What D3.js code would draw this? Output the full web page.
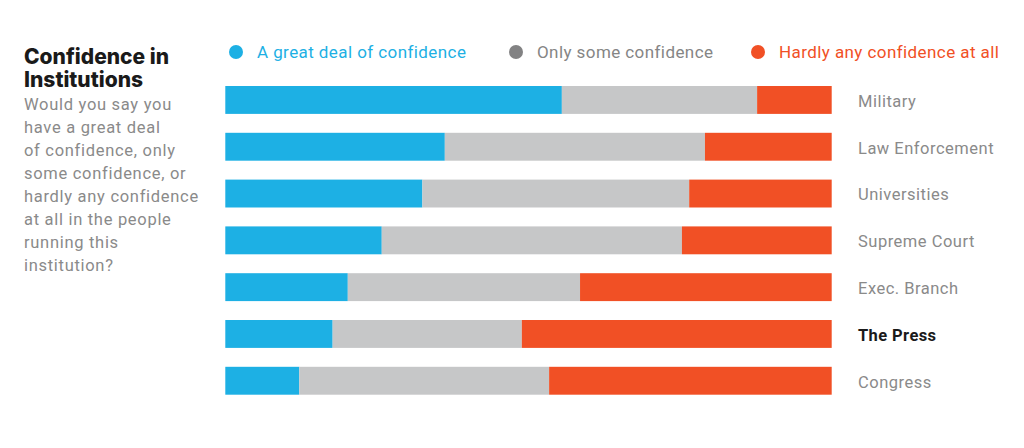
<!DOCTYPE html>
<html><head><meta charset="utf-8">
<script src="https://cdn.jsdelivr.net/npm/d3@7"></script>
<style>
html,body{margin:0;padding:0;background:#fff;}
svg{display:block;}
text{font-family:Roboto,"Liberation Sans",sans-serif;}
</style></head>
<body><svg id="chart" width="1024" height="448"></svg>
<script>
const categories = ["Military","Law Enforcement","Universities","Supreme Court","Exec. Branch","The Press","Congress"];
const greatDeal = [55.5,36.2,32.5,25.8,20.2,17.7,12.2];
const onlySome = [32.2,42.9,44.0,49.5,38.3,31.2,41.2];
const hardlyAny = [12.3,20.9,23.5,24.7,41.5,51.1,46.6];
const seriesNames = ["A great deal of confidence","Only some confidence","Hardly any confidence at all"];
const barColors = ["#1db0e4","#c6c7c8","#f15025"];
const legendDotColors = ["#1db0e4","#828283","#f15025"];
const legendTextColors = ["#1db0e4","#858585","#f15025"];
const titleLines = ["Confidence in","Institutions"];
const bodyLines = ["Would you say you","have a great deal","of confidence, only","some confidence, or","hardly any confidence","at all in the people","running this","institution?"];
const highlight = "The Press";

const svg = d3.select("#chart");
const keys = ["great","some","hardly"];
const table = categories.map((c,i)=>({cat:c, great:greatDeal[i], some:onlySome[i], hardly:hardlyAny[i]}));
const stacked = d3.stack().keys(keys)(table);

const x = d3.scaleLinear().domain([0,100]).range([225.3,831.7]);
const y = d3.scaleBand().domain(categories).range([86,394.7]).paddingInner(0.404).paddingOuter(0);
const color = d3.scaleOrdinal().domain(keys).range(barColors);

svg.append("g").selectAll("g").data(stacked).join("g")
  .attr("fill", d=>color(d.key))
  .selectAll("rect").data(d=>d).join("rect")
  .attr("x", d=>x(d[0]))
  .attr("width", d=>x(d[1])-x(d[0]))
  .attr("y", d=>y(d.data.cat))
  .attr("height", y.bandwidth());

// category labels
svg.append("g").selectAll("text").data(categories).join("text")
  .attr("x", 858)
  .attr("y", d=>y(d)+y.bandwidth()/2+1)
  .attr("dy","0.36em")
  .attr("font-size", 16.5)
  .attr("letter-spacing", d=>d===highlight?"0.4":"0.5")
  .attr("font-weight", d=>d===highlight?700:400)
  .attr("fill", d=>d===highlight?"#1a1a1a":"#8a8a8a")
  .text(d=>d);

// legend
const legendX = [236,516,758];
const lg = svg.append("g").selectAll("g").data(seriesNames).join("g")
  .attr("transform",(d,i)=>`translate(${legendX[i]},52)`);
lg.append("circle").attr("r",7).attr("fill",(d,i)=>legendDotColors[i]);
lg.append("text").attr("x",21).attr("dy","0.36em").attr("font-size",17)
  .attr("letter-spacing","0.42")
  .attr("fill",(d,i)=>legendTextColors[i]).text(d=>d);

// title
svg.append("g").selectAll("text").data(titleLines).join("text")
  .attr("x",24).attr("y",(d,i)=>64+i*23.3)
  .style("font-family","Inter, Roboto, sans-serif")
  .attr("font-size",21).attr("font-weight",800).attr("fill","#1a1a1a")
  .attr("letter-spacing","0")
  .text(d=>d);

svg.append("g").selectAll("text").data(bodyLines).join("text")
  .attr("x",24).attr("y",(d,i)=>110+i*23.0)
  .attr("font-size",16.5).attr("fill","#8a8a8a")
  .attr("letter-spacing","0.7")
  .text(d=>d);
</script></body></html>
